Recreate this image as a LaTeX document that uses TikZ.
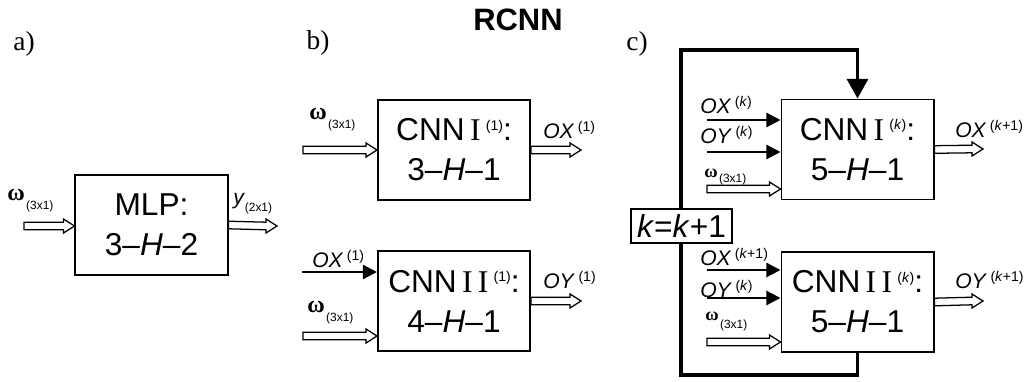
\documentclass[tikz,border=0pt]{standalone}
\usepackage{fontspec}
\usepackage{amsmath,amssymb}
\setmainfont{Liberation Serif}
\setsansfont{Liberation Sans}
\usetikzlibrary{positioning, calc, arrows.meta}

% small raised / lowered indices
\newcommand{\sups}[1]{\,\raisebox{0.33em}{\fontsize{10}{11}\selectfont(#1)}}
\newcommand{\subs}[1]{\raisebox{-0.35em}{\fontsize{8.5}{9}\selectfont(#1)}}
\newcommand{\omg}[2][17]{{\rmfamily\bfseries\fontsize{#1}{#1}\selectfont ω}\hspace{1pt}\raisebox{-#2pt}{\fontsize{8.5}{9}\selectfont(3x1)}}
\newcommand{\rI}{{\rmfamily I}}
% hollow (vector) arrow between two named points
\newcommand{\hollowarr}[2]{%
  \draw[hollow] ($(#1)+(0,-3.8)$) -- ($(#2)+(-11,-3.8)$) -- ($(#2)+(-11,-7)$) -- (#2)
    -- ($(#2)+(-11,7)$) -- ($(#2)+(-11,3.8)$) -- ($(#1)+(0,3.8)$) -- cycle;}

\tikzset{
  block/.style={draw, line width=1.4pt, minimum width=3.8cm, minimum height=2.5cm, align=center, inner sep=0pt, font=\sffamily\fontsize{22.5}{28.5}\selectfont},
  lbl/.style={anchor=base west, inner sep=0pt, font=\sffamily\fontsize{15}{18}\selectfont},
  tag/.style={inner sep=0pt, font=\rmfamily\fontsize{19.5}{22}\selectfont},
  hollow/.style={draw, line width=0.9pt, line join=miter},
  feed/.style={line width=1.6pt, -{Triangle[length=10pt, width=10pt]}},
  back/.style={line width=2.2pt, -{Triangle[length=14pt, width=15pt]}},
}

\begin{document}
\begin{tikzpicture}[x=0.025cm, y=-0.025cm]
    \useasboundingbox (0,0) rectangle (1030,381);

    % Title and panel tags
    \node[inner sep=0pt, font=\sffamily\bfseries\fontsize{22}{24}\selectfont] (ttl) at (518,20) {RCNN};
    \node[tag] (ta) at (24,44) {a)};
    \node[tag] (tb) at (318,43) {b)};
    \node[tag] (tc) at (637,44) {c)};

    % a) single network
    \node[block] (mlp) at (151.5,225) {MLP:\\3--\textit{H}--2};
    \coordinate (wa) at (24,226);
    \coordinate (wae) at (wa -| mlp.west);
    \coordinate (ya) at (277,226);
    \hollowarr{wa}{wae}
    \hollowarr{mlp.east}{ya}
    \node[lbl] (wal) at (7,200) {\omg{7}};
    \node[lbl] (yal) at (233,204) {\textit{y}\subs{2x1}};

    % b) first step
    \node[block] (cnnIb) at (454,150) {CNN\,\rI\sups{1}:\\3--\textit{H}--1};
    \node[block] (cnnIIb) at (454,301) {CNN\,\rI\,\rI\sups{1}:\\4--\textit{H}--1};

    \coordinate (wb1) at (303,150);
    \coordinate (wb1e) at (wb1 -| cnnIb.west);
    \hollowarr{wb1}{wb1e}
    \node[lbl] (wb1l) at (309,119) {\omg{7}};
    \coordinate (oxb) at (581,150);
    \hollowarr{cnnIb.east}{oxb}
    \node[lbl] (oxbl) at (543,138) {\textit{OX}\sups{1}};

    \coordinate (oxb2) at (302,272);
    \draw[feed] (oxb2) -- (oxb2 -| cnnIIb.west);
    \node[lbl] (oxb2l) at (312,267) {\textit{OX}\sups{1}};
    \coordinate (wb2) at (303,336);
    \coordinate (wb2e) at (wb2 -| cnnIIb.west);
    \hollowarr{wb2}{wb2e}
    \node[lbl] (wb2l) at (307,312) {\omg{7}};
    \coordinate (oyb) at (581,301);
    \hollowarr{cnnIIb.east}{oyb}
    \node[lbl] (oybl) at (543,288) {\textit{OY}\sups{1}};

    % c) recurrent step k
    \node[block] (cnnIc) at (857.5,149.5) {CNN\,\rI\sups{\textit{k}}:\\5--\textit{H}--1};
    \node[block] (cnnIIc) at (857.5,302) {CNN\,\rI\,\rI\sups{\textit{k}}:\\5--\textit{H}--1};

    \coordinate (oxc1) at (707,120);
    \coordinate (oyc1) at (707,152);
    \coordinate (wc1) at (707,189);
    \coordinate (wc1e) at (wc1 -| cnnIc.west);
    \draw[feed] (oxc1) -- (oxc1 -| cnnIc.west);
    \draw[feed] (oyc1) -- (oyc1 -| cnnIc.west);
    \hollowarr{wc1}{wc1e}
    \node[lbl] (oxc1l) at (700,113) {\textit{OX}\sups{\textit{k}}};
    \node[lbl] (oyc1l) at (700,143) {\textit{OY}\sups{\textit{k}}};
    \node[lbl] (wc1l) at (704,177) {\omg[13]{4}};
    \coordinate (oxc) at (983,149);
    \hollowarr{cnnIc.east}{oxc}
    \node[lbl] (oxcl) at (955,137) {\textit{OX}\sups{\textit{k}+1}};

    \coordinate (oxc2) at (707,270);
    \coordinate (oyc2) at (707,298);
    \coordinate (wc2) at (707,342);
    \coordinate (wc2e) at (wc2 -| cnnIIc.west);
    \draw[feed] (oxc2) -- (oxc2 -| cnnIIc.west);
    \draw[feed] (oyc2) -- (oyc2 -| cnnIIc.west);
    \hollowarr{wc2}{wc2e}
    \node[lbl] (oxc2l) at (700,265) {\textit{OX}\sups{\textit{k}+1}};
    \node[lbl] (oyc2l) at (700,297) {\textit{OY}\sups{\textit{k}}};
    \node[lbl] (wc2l) at (705,320) {\omg[13]{6}};
    \coordinate (oyc) at (983,301);
    \hollowarr{cnnIIc.east}{oyc}
    \node[lbl] (oycl) at (955,288) {\textit{OY}\sups{\textit{k}+1}};

    % feedback loop
    \coordinate (lpTop) at (681,50);
    \coordinate (lpBot) at (681,375);
    \draw[back] (cnnIIc.south) -- (cnnIIc.south |- lpBot) -- (lpBot) -- (lpTop) -- (lpTop -| cnnIc.north) -- (cnnIc.north);
    \node[draw, fill=white, line width=0.8pt, minimum width=2.525cm, minimum height=0.85cm, inner sep=0pt,
          font=\sffamily\fontsize{22.5}{26}\selectfont] (kinc) at (681.5,226) {\textit{k}=\textit{k}+1};

\end{tikzpicture}
\end{document}
